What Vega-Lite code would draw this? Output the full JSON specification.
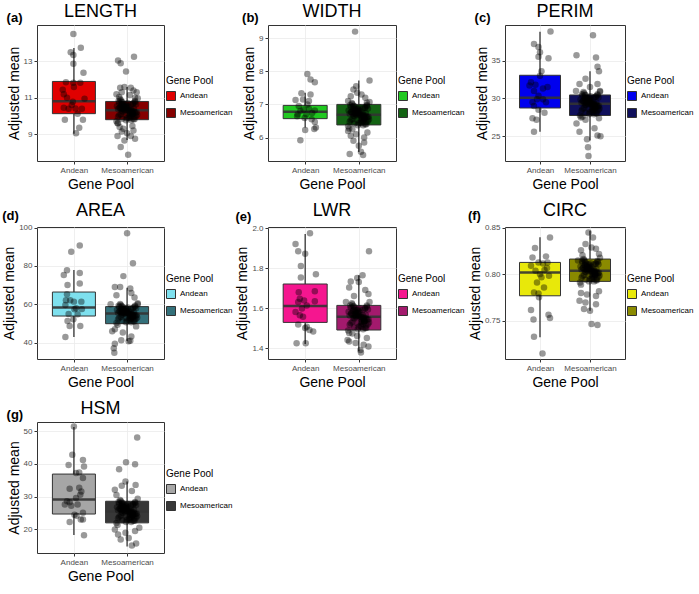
{
"$schema":"https://vega.github.io/schema/vega-lite/v6.json",
"padding":{"left":2,"top":2,"right":0,"bottom":0},
"columns":3,
"align":"each",
"spacing":{"row":9,"column":2},
"resolve":{"scale":{"color":"independent"},"legend":{"color":"independent"}},
"config":{
 "font":"Liberation Sans",
 "view":{"stroke":"#333333","strokeWidth":1},
 "axis":{"domain":false,"gridColor":"#ebebeb","gridWidth":0.8,"tickColor":"#333333","tickSize":3,"labelColor":"#4d4d4d","labelFontSize":8,"titleFontSize":14,"titleFontWeight":"normal","titleColor":"#000000","labelPadding":2},
 "axisX":{"titlePadding":3},
 "axisY":{"titlePadding":2},
 "title":{"fontSize":18,"fontWeight":"normal","offset":4,"frame":"group"},
 "legend":{"titleFontSize":10,"titleFontWeight":"normal","labelFontSize":8,"symbolType":"square","symbolSize":81,"symbolStrokeColor":"#333333","symbolStrokeWidth":1,"rowPadding":3,"titlePadding":5,"labelOffset":4,"padding":0,"orient":"none"}
},
"datasets":{
"a_box":[{"gp":"Andean","x":1,"lo":9.02,"q1":10.13,"med":10.81,"q3":11.9,"hi":13.73},{"gp":"Mesoamerican","x":2,"lo":8.69,"q1":9.8,"med":10.32,"q3":10.8,"hi":11.6}],
"a_pts":[
{"x":0.99,"y":14.5},{"x":0.94,"y":13.5},{"x":1.13,"y":13.75},{"x":0.99,"y":13.35},{"x":0.99,"y":12.87},{"x":1.18,"y":12.38},{"x":0.85,"y":11.86},{"x":0.99,"y":11.83},{"x":1.12,"y":11.83},{"x":0.79,"y":11.45},{"x":0.81,"y":11.2},{"x":1.0,"y":11.6},{"x":0.98,"y":10.78},{"x":0.96,"y":10.6},{"x":0.81,"y":10.45},{"x":0.9,"y":10.4},{"x":1.15,"y":10.4},{"x":1.03,"y":10.42},{"x":0.83,"y":9.8},{"x":1.17,"y":9.8},{"x":1.07,"y":10.13},{"x":1.1,"y":9.35},{"x":1.04,"y":9.06},{"x":0.87,"y":11.0},{"x":1.2,"y":10.95},
{"x":1.83,"y":10.38},{"x":2.05,"y":10.1},{"x":1.92,"y":10.65},{"x":2.12,"y":9.83},{"x":1.98,"y":10.49},{"x":2.18,"y":10.21},{"x":1.88,"y":10.87},{"x":2.08,"y":9.99},{"x":2.0,"y":10.57},{"x":1.8,"y":9.72},{"x":2.15,"y":10.76},{"x":1.95,"y":10.32},{"x":2.1,"y":10.13},{"x":1.86,"y":10.46},{"x":2.03,"y":9.91},{"x":2.2,"y":10.98},{"x":1.9,"y":10.27},{"x":2.07,"y":10.62},{"x":1.97,"y":10.05},{"x":2.13,"y":10.4},{"x":1.82,"y":9.61},{"x":2.01,"y":10.71},{"x":2.16,"y":10.18},{"x":1.93,"y":10.51},{"x":2.09,"y":10.29},
{"x":2.04,"y":10.24},{"x":1.89,"y":10.6},{"x":2.14,"y":9.94},{"x":1.94,"y":10.43},{"x":2.19,"y":10.07},{"x":1.84,"y":10.82},{"x":2.06,"y":10.16},{"x":1.99,"y":10.35},{"x":2.11,"y":10.68},{"x":1.91,"y":9.85},{"x":1.81,"y":10.54},{"x":2.17,"y":9.99},{"x":2.02,"y":10.32},{"x":1.87,"y":10.93},{"x":2.08,"y":9.77},{"x":1.96,"y":10.49},{"x":2.14,"y":10.21},{"x":1.85,"y":10.73},{"x":2.1,"y":10.1},{"x":1.92,"y":10.38},{"x":2.05,"y":10.02},{"x":1.98,"y":10.65},{"x":2.12,"y":10.27},{"x":1.9,"y":10.79},{"x":2.0,"y":9.88},
{"x":2.0,"y":10.43},{"x":2.1,"y":10.16},{"x":1.9,"y":10.6},{"x":2.05,"y":9.88},{"x":1.95,"y":10.35},{"x":2.15,"y":10.82},{"x":1.85,"y":10.05},{"x":2.02,"y":10.51},{"x":1.92,"y":10.24},{"x":2.12,"y":10.71},{"x":1.98,"y":9.77},{"x":2.07,"y":10.4},{"x":1.88,"y":10.1},{"x":2.17,"y":10.65},{"x":1.83,"y":9.96},{"x":2.04,"y":10.32},{"x":1.94,"y":10.54},{"x":2.09,"y":10.21},{"x":1.91,"y":10.76},{"x":2.14,"y":9.83},{"x":1.86,"y":10.46},{"x":2.06,"y":10.29},{"x":1.96,"y":10.62},{"x":2.11,"y":10.13},{"x":1.89,"y":10.38},
{"x":1.83,"y":13.05},{"x":1.88,"y":12.9},{"x":2.13,"y":13.25},{"x":1.98,"y":12.45},{"x":1.87,"y":11.55},{"x":2.07,"y":11.55},{"x":2.12,"y":11.4},{"x":1.95,"y":11.6},{"x":2.18,"y":11.3},{"x":1.8,"y":11.2},{"x":2.05,"y":11.15},{"x":1.9,"y":11.3},{"x":2.15,"y":11.0},{"x":1.85,"y":11.05},
{"x":1.86,"y":9.4},{"x":1.9,"y":9.15},{"x":1.82,"y":8.9},{"x":1.95,"y":8.65},{"x":1.88,"y":8.3},{"x":2.07,"y":8.9},{"x":2.15,"y":8.75},{"x":2.02,"y":7.87},{"x":2.12,"y":9.2},{"x":1.83,"y":9.6},{"x":2.0,"y":9.05},{"x":2.1,"y":9.45},{"x":1.93,"y":9.3}
],
"b_box":[{"gp":"Andean","x":1,"lo":6.3,"q1":6.57,"med":6.78,"q3":6.97,"hi":7.35},{"gp":"Mesoamerican","x":2,"lo":5.56,"q1":6.38,"med":6.69,"q3":7.0,"hi":7.72}],
"b_pts":[
{"x":1.04,"y":7.92},{"x":1.1,"y":7.75},{"x":1.18,"y":7.67},{"x":0.93,"y":7.34},{"x":1.1,"y":7.3},{"x":0.82,"y":7.13},{"x":1.07,"y":7.1},{"x":0.88,"y":6.95},{"x":0.97,"y":6.85},{"x":1.07,"y":6.87},{"x":1.18,"y":6.82},{"x":0.85,"y":6.64},{"x":0.99,"y":6.59},{"x":1.18,"y":6.47},{"x":1.0,"y":6.23},{"x":1.17,"y":6.26},{"x":1.2,"y":6.3},{"x":0.91,"y":5.92},{"x":1.13,"y":6.74},{"x":0.91,"y":6.8},{"x":1.04,"y":7.0},{"x":0.96,"y":7.15},{"x":0.86,"y":6.7},{"x":1.02,"y":6.7},{"x":1.12,"y":6.55},
{"x":1.83,"y":6.72},{"x":2.05,"y":6.56},{"x":1.92,"y":6.88},{"x":2.12,"y":6.4},{"x":1.98,"y":6.79},{"x":2.18,"y":6.63},{"x":1.88,"y":7.01},{"x":2.08,"y":6.5},{"x":2.0,"y":6.83},{"x":1.8,"y":6.34},{"x":2.15,"y":6.95},{"x":1.95,"y":6.69},{"x":2.1,"y":6.58},{"x":1.86,"y":6.77},{"x":2.03,"y":6.45},{"x":2.2,"y":7.07},{"x":1.9,"y":6.66},{"x":2.07,"y":6.87},{"x":1.97,"y":6.53},{"x":2.13,"y":6.74},{"x":1.82,"y":6.27},{"x":2.01,"y":6.91},{"x":2.16,"y":6.61},{"x":1.93,"y":6.8},{"x":2.09,"y":6.67},
{"x":2.04,"y":6.64},{"x":1.89,"y":6.85},{"x":2.14,"y":6.47},{"x":1.94,"y":6.75},{"x":2.19,"y":6.55},{"x":1.84,"y":6.98},{"x":2.06,"y":6.59},{"x":1.99,"y":6.71},{"x":2.11,"y":6.9},{"x":1.91,"y":6.42},{"x":1.81,"y":6.82},{"x":2.17,"y":6.5},{"x":2.02,"y":6.69},{"x":1.87,"y":7.04},{"x":2.08,"y":6.37},{"x":1.96,"y":6.79},{"x":2.14,"y":6.63},{"x":1.85,"y":6.93},{"x":2.1,"y":6.56},{"x":1.92,"y":6.72},{"x":2.05,"y":6.51},{"x":1.98,"y":6.88},{"x":2.12,"y":6.66},{"x":1.9,"y":6.96},{"x":2.0,"y":6.43},
{"x":2.0,"y":6.75},{"x":2.1,"y":6.59},{"x":1.9,"y":6.85},{"x":2.05,"y":6.43},{"x":1.95,"y":6.71},{"x":2.15,"y":6.98},{"x":1.85,"y":6.53},{"x":2.02,"y":6.8},{"x":1.92,"y":6.64},{"x":2.12,"y":6.91},{"x":1.98,"y":6.37},{"x":2.07,"y":6.74},{"x":1.88,"y":6.56},{"x":2.17,"y":6.88},{"x":1.83,"y":6.48},{"x":2.04,"y":6.69},{"x":1.94,"y":6.82},{"x":2.09,"y":6.63},{"x":1.91,"y":6.95},{"x":2.14,"y":6.4},{"x":1.86,"y":6.77},{"x":2.06,"y":6.67},{"x":1.96,"y":6.87},{"x":2.11,"y":6.58},{"x":1.89,"y":6.72},
{"x":1.93,"y":9.2},{"x":2.2,"y":7.72},{"x":1.95,"y":7.55},{"x":1.9,"y":7.45},{"x":1.85,"y":7.25},{"x":2.05,"y":7.3},{"x":2.12,"y":7.2},{"x":1.8,"y":7.1},{"x":2.15,"y":7.05},{"x":1.97,"y":7.35},
{"x":1.83,"y":5.5},{"x":2.04,"y":5.57},{"x":2.08,"y":5.47},{"x":1.9,"y":5.9},{"x":2.1,"y":5.85},{"x":1.85,"y":6.05},{"x":2.0,"y":5.75},{"x":1.8,"y":6.2},{"x":2.16,"y":6.15},{"x":1.95,"y":6.1},{"x":2.1,"y":6.0},{"x":1.88,"y":6.25}
],
"c_box":[{"gp":"Andean","x":1,"lo":25.6,"q1":28.74,"med":30.1,"q3":33.06,"hi":38.8},{"gp":"Mesoamerican","x":2,"lo":24.46,"q1":27.75,"med":29.3,"q3":30.46,"hi":33.6}],
"c_pts":[
{"x":1.21,"y":38.84},{"x":0.88,"y":37.2},{"x":0.97,"y":36.8},{"x":1.0,"y":36.1},{"x":0.97,"y":35.5},{"x":1.17,"y":35.3},{"x":1.03,"y":33.6},{"x":0.82,"y":32.15},{"x":0.91,"y":31.8},{"x":1.15,"y":31.5},{"x":0.88,"y":31.0},{"x":0.97,"y":30.35},{"x":0.94,"y":29.9},{"x":1.06,"y":29.9},{"x":0.88,"y":29.0},{"x":0.97,"y":28.5},{"x":1.09,"y":28.1},{"x":0.85,"y":27.4},{"x":0.93,"y":27.2},{"x":0.88,"y":25.6},{"x":0.79,"y":31.7},{"x":1.06,"y":31.3},{"x":0.85,"y":29.5},{"x":1.12,"y":29.5},{"x":1.0,"y":33.0},
{"x":1.83,"y":29.44},{"x":2.05,"y":28.74},{"x":1.92,"y":30.14},{"x":2.12,"y":28.04},{"x":1.98,"y":29.72},{"x":2.18,"y":29.02},{"x":1.88,"y":30.7},{"x":2.08,"y":28.46},{"x":2.0,"y":29.93},{"x":1.8,"y":27.76},{"x":2.15,"y":30.42},{"x":1.95,"y":29.3},{"x":2.1,"y":28.81},{"x":1.86,"y":29.65},{"x":2.03,"y":28.25},{"x":2.2,"y":30.98},{"x":1.9,"y":29.16},{"x":2.07,"y":30.07},{"x":1.97,"y":28.6},{"x":2.13,"y":29.51},{"x":1.82,"y":27.48},{"x":2.01,"y":30.28},{"x":2.16,"y":28.95},{"x":1.93,"y":29.79},{"x":2.09,"y":29.23},
{"x":2.04,"y":29.09},{"x":1.89,"y":30.0},{"x":2.14,"y":28.32},{"x":1.94,"y":29.58},{"x":2.19,"y":28.67},{"x":1.84,"y":30.56},{"x":2.06,"y":28.88},{"x":1.99,"y":29.37},{"x":2.11,"y":30.21},{"x":1.91,"y":28.11},{"x":1.81,"y":29.86},{"x":2.17,"y":28.46},{"x":2.02,"y":29.3},{"x":1.87,"y":30.84},{"x":2.08,"y":27.9},{"x":1.96,"y":29.72},{"x":2.14,"y":29.02},{"x":1.85,"y":30.35},{"x":2.1,"y":28.74},{"x":1.92,"y":29.44},{"x":2.05,"y":28.53},{"x":1.98,"y":30.14},{"x":2.12,"y":29.16},{"x":1.9,"y":30.49},{"x":2.0,"y":28.18},
{"x":2.0,"y":29.58},{"x":2.1,"y":28.88},{"x":1.9,"y":30.0},{"x":2.05,"y":28.18},{"x":1.95,"y":29.37},{"x":2.15,"y":30.56},{"x":1.85,"y":28.6},{"x":2.02,"y":29.79},{"x":1.92,"y":29.09},{"x":2.12,"y":30.28},{"x":1.98,"y":27.9},{"x":2.07,"y":29.51},{"x":1.88,"y":28.74},{"x":2.17,"y":30.14},{"x":1.83,"y":28.39},{"x":2.04,"y":29.3},{"x":1.94,"y":29.86},{"x":2.09,"y":29.02},{"x":1.91,"y":30.42},{"x":2.14,"y":28.04},{"x":1.86,"y":29.65},{"x":2.06,"y":29.23},{"x":1.96,"y":30.07},{"x":2.11,"y":28.81},{"x":1.89,"y":29.44},
{"x":2.06,"y":38.35},{"x":1.73,"y":35.7},{"x":2.12,"y":35.4},{"x":2.15,"y":34.2},{"x":2.18,"y":33.6},{"x":1.91,"y":32.6},{"x":1.79,"y":31.9},{"x":2.15,"y":31.9},{"x":2.0,"y":31.5},{"x":1.72,"y":31.0},{"x":2.2,"y":30.9},
{"x":1.97,"y":22.4},{"x":1.96,"y":23.55},{"x":1.94,"y":24.6},{"x":2.15,"y":25.1},{"x":2.21,"y":25.0},{"x":1.79,"y":25.6},{"x":2.09,"y":26.05},{"x":1.73,"y":26.7},{"x":1.91,"y":27.2},{"x":2.18,"y":27.4},{"x":1.85,"y":27.6}
],
"d_box":[{"gp":"Andean","x":1,"lo":43.0,"q1":53.9,"med":58.3,"q3":66.4,"hi":77.9},{"gp":"Mesoamerican","x":2,"lo":40.9,"q1":49.9,"med":55.2,"q3":58.8,"hi":68.7}],
"d_pts":[
{"x":0.95,"y":87.4},{"x":1.11,"y":90.7},{"x":0.87,"y":77.7},{"x":0.81,"y":75.3},{"x":1.11,"y":76.3},{"x":1.11,"y":70.8},{"x":0.88,"y":70.1},{"x":0.87,"y":65.2},{"x":0.93,"y":62.1},{"x":0.85,"y":62.1},{"x":1.0,"y":61.4},{"x":1.14,"y":61.4},{"x":0.84,"y":59.6},{"x":1.01,"y":57.4},{"x":1.07,"y":54.8},{"x":0.9,"y":54.9},{"x":0.88,"y":51.3},{"x":0.99,"y":52.2},{"x":0.92,"y":48.7},{"x":1.12,"y":48.7},{"x":0.84,"y":43.0},{"x":1.04,"y":58.0},{"x":1.15,"y":57.5},
{"x":1.83,"y":55.65},{"x":2.05,"y":53.4},{"x":1.92,"y":57.9},{"x":2.12,"y":51.15},{"x":1.98,"y":56.55},{"x":2.18,"y":54.3},{"x":1.88,"y":59.7},{"x":2.08,"y":52.5},{"x":2.0,"y":57.23},{"x":1.8,"y":50.25},{"x":2.15,"y":58.8},{"x":1.95,"y":55.2},{"x":2.1,"y":53.63},{"x":1.86,"y":56.33},{"x":2.03,"y":51.83},{"x":2.2,"y":60.6},{"x":1.9,"y":54.75},{"x":2.07,"y":57.68},{"x":1.97,"y":52.95},{"x":2.13,"y":55.88},{"x":1.82,"y":49.35},{"x":2.01,"y":58.35},{"x":2.16,"y":54.08},{"x":1.93,"y":56.78},{"x":2.09,"y":54.98},
{"x":2.04,"y":54.53},{"x":1.89,"y":57.45},{"x":2.14,"y":52.05},{"x":1.94,"y":56.1},{"x":2.19,"y":53.18},{"x":1.84,"y":59.25},{"x":2.06,"y":53.85},{"x":1.99,"y":55.43},{"x":2.11,"y":58.13},{"x":1.91,"y":51.38},{"x":1.81,"y":57.0},{"x":2.17,"y":52.5},{"x":2.02,"y":55.2},{"x":1.87,"y":60.15},{"x":2.08,"y":50.7},{"x":1.96,"y":56.55},{"x":2.14,"y":54.3},{"x":1.85,"y":58.58},{"x":2.1,"y":53.4},{"x":1.92,"y":55.65},{"x":2.05,"y":52.73},{"x":1.98,"y":57.9},{"x":2.12,"y":54.75},{"x":1.9,"y":59.03},{"x":2.0,"y":51.6},
{"x":2.0,"y":56.1},{"x":2.1,"y":53.85},{"x":1.9,"y":57.45},{"x":2.05,"y":51.6},{"x":1.95,"y":55.43},{"x":2.15,"y":59.25},{"x":1.85,"y":52.95},{"x":2.02,"y":56.78},{"x":1.92,"y":54.53},{"x":2.12,"y":58.35},{"x":1.98,"y":50.7},{"x":2.07,"y":55.88},{"x":1.88,"y":53.4},{"x":2.17,"y":57.9},{"x":1.83,"y":52.28},{"x":2.04,"y":55.2},{"x":1.94,"y":57.0},{"x":2.09,"y":54.3},{"x":1.91,"y":58.8},{"x":2.14,"y":51.15},{"x":1.86,"y":56.33},{"x":2.06,"y":54.98},{"x":1.96,"y":57.68},{"x":2.11,"y":53.63},{"x":1.89,"y":55.65},
{"x":2.0,"y":97.0},{"x":2.11,"y":81.4},{"x":1.93,"y":74.7},{"x":1.77,"y":69.0},{"x":1.87,"y":69.0},{"x":2.06,"y":68.2},{"x":2.08,"y":65.9},{"x":1.8,"y":64.7},{"x":2.14,"y":63.5},{"x":1.69,"y":60.0},{"x":2.2,"y":60.0},
{"x":1.77,"y":47.0},{"x":1.92,"y":45.3},{"x":2.08,"y":43.2},{"x":2.03,"y":40.7},{"x":1.89,"y":41.25},{"x":1.77,"y":39.5},{"x":1.75,"y":37.1},{"x":1.76,"y":34.8},{"x":2.06,"y":41.0},{"x":1.72,"y":46.0},{"x":2.17,"y":48.5}
],
"e_box":[{"gp":"Andean","x":1,"lo":1.42,"q1":1.528,"med":1.61,"q3":1.72,"hi":1.97},{"gp":"Mesoamerican","x":2,"lo":1.384,"q1":1.49,"med":1.556,"q3":1.613,"hi":1.764}],
"e_pts":[
{"x":1.09,"y":1.974},{"x":0.82,"y":1.92},{"x":0.87,"y":1.884},{"x":1.0,"y":1.871},{"x":0.92,"y":1.81},{"x":0.92,"y":1.753},{"x":1.2,"y":1.769},{"x":0.88,"y":1.679},{"x":1.18,"y":1.684},{"x":0.9,"y":1.646},{"x":0.98,"y":1.637},{"x":1.18,"y":1.634},{"x":0.87,"y":1.63},{"x":1.03,"y":1.613},{"x":0.94,"y":1.597},{"x":0.9,"y":1.564},{"x":0.96,"y":1.556},{"x":0.87,"y":1.518},{"x":1.03,"y":1.506},{"x":1.08,"y":1.49},{"x":1.15,"y":1.482},{"x":0.84,"y":1.424},{"x":1.01,"y":1.424},{"x":1.0,"y":1.5},{"x":0.82,"y":1.58},
{"x":1.83,"y":1.562},{"x":2.05,"y":1.531},{"x":1.92,"y":1.593},{"x":2.12,"y":1.5},{"x":1.98,"y":1.575},{"x":2.18,"y":1.544},{"x":1.88,"y":1.618},{"x":2.08,"y":1.519},{"x":2.0,"y":1.584},{"x":1.8,"y":1.488},{"x":2.15,"y":1.606},{"x":1.95,"y":1.556},{"x":2.1,"y":1.534},{"x":1.86,"y":1.572},{"x":2.03,"y":1.51},{"x":2.2,"y":1.63},{"x":1.9,"y":1.55},{"x":2.07,"y":1.59},{"x":1.97,"y":1.525},{"x":2.13,"y":1.565},{"x":1.82,"y":1.475},{"x":2.01,"y":1.599},{"x":2.16,"y":1.541},{"x":1.93,"y":1.578},{"x":2.09,"y":1.553},
{"x":2.04,"y":1.547},{"x":1.89,"y":1.587},{"x":2.14,"y":1.513},{"x":1.94,"y":1.568},{"x":2.19,"y":1.528},{"x":1.84,"y":1.612},{"x":2.06,"y":1.537},{"x":1.99,"y":1.559},{"x":2.11,"y":1.596},{"x":1.91,"y":1.503},{"x":1.81,"y":1.581},{"x":2.17,"y":1.519},{"x":2.02,"y":1.556},{"x":1.87,"y":1.624},{"x":2.08,"y":1.494},{"x":1.96,"y":1.575},{"x":2.14,"y":1.544},{"x":1.85,"y":1.603},{"x":2.1,"y":1.531},{"x":1.92,"y":1.562},{"x":2.05,"y":1.522},{"x":1.98,"y":1.593},{"x":2.12,"y":1.55},{"x":1.9,"y":1.609},{"x":2.0,"y":1.506},
{"x":2.0,"y":1.568},{"x":2.1,"y":1.537},{"x":1.9,"y":1.587},{"x":2.05,"y":1.506},{"x":1.95,"y":1.559},{"x":2.15,"y":1.612},{"x":1.85,"y":1.525},{"x":2.02,"y":1.578},{"x":1.92,"y":1.547},{"x":2.12,"y":1.599},{"x":1.98,"y":1.494},{"x":2.07,"y":1.565},{"x":1.88,"y":1.531},{"x":2.17,"y":1.593},{"x":1.83,"y":1.516},{"x":2.04,"y":1.556},{"x":1.94,"y":1.581},{"x":2.09,"y":1.544},{"x":1.91,"y":1.606},{"x":2.14,"y":1.5},{"x":1.86,"y":1.572},{"x":2.06,"y":1.553},{"x":1.96,"y":1.59},{"x":2.11,"y":1.534},{"x":1.89,"y":1.562},
{"x":2.19,"y":1.884},{"x":2.07,"y":1.764},{"x":1.97,"y":1.75},{"x":1.85,"y":1.733},{"x":2.0,"y":1.73},{"x":1.82,"y":1.703},{"x":2.12,"y":1.69},{"x":2.18,"y":1.67},{"x":1.91,"y":1.66},{"x":1.76,"y":1.63},
{"x":1.88,"y":1.473},{"x":1.82,"y":1.432},{"x":1.94,"y":1.425},{"x":2.09,"y":1.416},{"x":2.18,"y":1.408},{"x":2.03,"y":1.39},{"x":2.04,"y":1.378},{"x":1.79,"y":1.44},{"x":1.97,"y":1.46},{"x":2.15,"y":1.45}
],
"f_box":[{"gp":"Andean","x":1,"lo":0.7325,"q1":0.777,"med":0.802,"q3":0.8129,"hi":0.84},{"gp":"Mesoamerican","x":2,"lo":0.761,"q1":0.7925,"med":0.804,"q3":0.8165,"hi":0.847}],
"f_pts":[
{"x":1.2,"y":0.8398},{"x":0.9,"y":0.8283},{"x":0.85,"y":0.8183},{"x":1.12,"y":0.8194},{"x":0.97,"y":0.8129},{"x":1.06,"y":0.8118},{"x":0.82,"y":0.8092},{"x":1.15,"y":0.8129},{"x":0.91,"y":0.8039},{"x":1.09,"y":0.8047},{"x":1.0,"y":0.8003},{"x":1.18,"y":0.7986},{"x":0.94,"y":0.7914},{"x":1.08,"y":0.786},{"x":0.88,"y":0.7806},{"x":0.97,"y":0.7796},{"x":0.98,"y":0.7753},{"x":0.82,"y":0.7616},{"x":1.17,"y":0.7566},{"x":1.2,"y":0.753},{"x":0.87,"y":0.7516},{"x":0.88,"y":0.7329},{"x":1.05,"y":0.715},{"x":1.14,"y":0.807},{"x":1.03,"y":0.797},
{"x":1.83,"y":0.8052},{"x":2.05,"y":0.7994},{"x":1.92,"y":0.8109},{"x":2.12,"y":0.7937},{"x":1.98,"y":0.8075},{"x":2.18,"y":0.8017},{"x":1.88,"y":0.8155},{"x":2.08,"y":0.7971},{"x":2.0,"y":0.8092},{"x":1.8,"y":0.7914},{"x":2.15,"y":0.8132},{"x":1.95,"y":0.804},{"x":2.1,"y":0.8},{"x":1.86,"y":0.8069},{"x":2.03,"y":0.7954},{"x":2.2,"y":0.8178},{"x":1.9,"y":0.8029},{"x":2.07,"y":0.8103},{"x":1.97,"y":0.7983},{"x":2.13,"y":0.8057},{"x":1.82,"y":0.789},{"x":2.01,"y":0.8121},{"x":2.16,"y":0.8011},{"x":1.93,"y":0.808},{"x":2.09,"y":0.8034},
{"x":2.04,"y":0.8023},{"x":1.89,"y":0.8098},{"x":2.14,"y":0.796},{"x":1.94,"y":0.8063},{"x":2.19,"y":0.7988},{"x":1.84,"y":0.8144},{"x":2.06,"y":0.8006},{"x":1.99,"y":0.8046},{"x":2.11,"y":0.8115},{"x":1.91,"y":0.7942},{"x":1.81,"y":0.8086},{"x":2.17,"y":0.7971},{"x":2.02,"y":0.804},{"x":1.87,"y":0.8167},{"x":2.08,"y":0.7925},{"x":1.96,"y":0.8075},{"x":2.14,"y":0.8017},{"x":1.85,"y":0.8126},{"x":2.1,"y":0.7994},{"x":1.92,"y":0.8052},{"x":2.05,"y":0.7977},{"x":1.98,"y":0.8109},{"x":2.12,"y":0.8029},{"x":1.9,"y":0.8138},{"x":2.0,"y":0.7948},
{"x":2.0,"y":0.8063},{"x":2.1,"y":0.8006},{"x":1.9,"y":0.8098},{"x":2.05,"y":0.7948},{"x":1.95,"y":0.8046},{"x":2.15,"y":0.8144},{"x":1.85,"y":0.7983},{"x":2.02,"y":0.808},{"x":1.92,"y":0.8023},{"x":2.12,"y":0.8121},{"x":1.98,"y":0.7925},{"x":2.07,"y":0.8057},{"x":1.88,"y":0.7994},{"x":2.17,"y":0.8109},{"x":1.83,"y":0.7965},{"x":2.04,"y":0.804},{"x":1.94,"y":0.8086},{"x":2.09,"y":0.8017},{"x":1.91,"y":0.8132},{"x":2.14,"y":0.7937},{"x":1.86,"y":0.8069},{"x":2.06,"y":0.8034},{"x":1.96,"y":0.8103},{"x":2.11,"y":0.8},{"x":1.89,"y":0.8052},
{"x":1.97,"y":0.8452},{"x":2.06,"y":0.8398},{"x":1.91,"y":0.8326},{"x":2.03,"y":0.829},{"x":1.82,"y":0.826},{"x":2.12,"y":0.8275},{"x":2.18,"y":0.822},{"x":1.85,"y":0.8205},{"x":1.76,"y":0.815},
{"x":1.91,"y":0.7699},{"x":1.79,"y":0.7716},{"x":1.88,"y":0.7627},{"x":2.0,"y":0.7608},{"x":2.12,"y":0.768},{"x":2.03,"y":0.7466},{"x":2.15,"y":0.7455},{"x":1.94,"y":0.7785},{"x":2.12,"y":0.7768},{"x":1.82,"y":0.78},{"x":2.18,"y":0.782}
],
"g_box":[{"gp":"Andean","x":1,"lo":18.3,"q1":24.7,"med":29.1,"q3":36.9,"hi":51.3},{"gp":"Mesoamerican","x":2,"lo":14.8,"q1":22.0,"med":25.5,"q3":28.6,"hi":34.6}],
"g_pts":[
{"x":1.0,"y":51.4},{"x":0.97,"y":42.8},{"x":0.9,"y":39.7},{"x":1.17,"y":41.2},{"x":1.19,"y":39.2},{"x":1.1,"y":37.4},{"x":1.04,"y":37.2},{"x":1.17,"y":35.7},{"x":0.92,"y":32.4},{"x":1.14,"y":31.6},{"x":1.12,"y":30.6},{"x":1.04,"y":29.6},{"x":0.87,"y":28.6},{"x":0.92,"y":28.3},{"x":1.07,"y":27.6},{"x":0.95,"y":27.2},{"x":1.01,"y":24.5},{"x":1.05,"y":24.2},{"x":1.17,"y":25.1},{"x":1.13,"y":23.0},{"x":1.17,"y":23.0},{"x":0.92,"y":22.3},{"x":1.19,"y":18.2},{"x":0.83,"y":27.6},{"x":1.1,"y":32.7},
{"x":1.83,"y":25.82},{"x":2.05,"y":24.22},{"x":1.92,"y":27.42},{"x":2.12,"y":22.62},{"x":1.98,"y":26.46},{"x":2.18,"y":24.86},{"x":1.88,"y":28.7},{"x":2.08,"y":23.58},{"x":2.0,"y":26.94},{"x":1.8,"y":21.98},{"x":2.15,"y":28.06},{"x":1.95,"y":25.5},{"x":2.1,"y":24.38},{"x":1.86,"y":26.3},{"x":2.03,"y":23.1},{"x":2.2,"y":29.34},{"x":1.9,"y":25.18},{"x":2.07,"y":27.26},{"x":1.97,"y":23.9},{"x":2.13,"y":25.98},{"x":1.82,"y":21.34},{"x":2.01,"y":27.74},{"x":2.16,"y":24.7},{"x":1.93,"y":26.62},{"x":2.09,"y":25.34},
{"x":2.04,"y":25.02},{"x":1.89,"y":27.1},{"x":2.14,"y":23.26},{"x":1.94,"y":26.14},{"x":2.19,"y":24.06},{"x":1.84,"y":28.38},{"x":2.06,"y":24.54},{"x":1.99,"y":25.66},{"x":2.11,"y":27.58},{"x":1.91,"y":22.78},{"x":1.81,"y":26.78},{"x":2.17,"y":23.58},{"x":2.02,"y":25.5},{"x":1.87,"y":29.02},{"x":2.08,"y":22.3},{"x":1.96,"y":26.46},{"x":2.14,"y":24.86},{"x":1.85,"y":27.9},{"x":2.1,"y":24.22},{"x":1.92,"y":25.82},{"x":2.05,"y":23.74},{"x":1.98,"y":27.42},{"x":2.12,"y":25.18},{"x":1.9,"y":28.22},{"x":2.0,"y":22.94},
{"x":2.0,"y":26.14},{"x":2.1,"y":24.54},{"x":1.9,"y":27.1},{"x":2.05,"y":22.94},{"x":1.95,"y":25.66},{"x":2.15,"y":28.38},{"x":1.85,"y":23.9},{"x":2.02,"y":26.62},{"x":1.92,"y":25.02},{"x":2.12,"y":27.74},{"x":1.98,"y":22.3},{"x":2.07,"y":25.98},{"x":1.88,"y":24.22},{"x":2.17,"y":27.42},{"x":1.83,"y":23.42},{"x":2.04,"y":25.5},{"x":1.94,"y":26.78},{"x":2.09,"y":24.86},{"x":1.91,"y":28.06},{"x":2.14,"y":22.62},{"x":1.86,"y":26.3},{"x":2.06,"y":25.34},{"x":1.96,"y":27.26},{"x":2.11,"y":24.38},{"x":1.89,"y":25.82},
{"x":2.19,"y":48.1},{"x":1.98,"y":40.5},{"x":2.15,"y":39.9},{"x":1.85,"y":38.4},{"x":1.97,"y":34.6},{"x":1.9,"y":33.3},{"x":2.16,"y":33.6},{"x":1.77,"y":32.1},{"x":2.09,"y":31.7},{"x":1.8,"y":30.5},
{"x":1.83,"y":18.45},{"x":2.03,"y":17.4},{"x":2.09,"y":15.1},{"x":2.17,"y":15.7},{"x":1.88,"y":16.9},{"x":1.97,"y":19.0},{"x":1.77,"y":20.0},{"x":2.23,"y":20.5},{"x":2.15,"y":19.5}
]
},
"concat":[
{"title":{"text":"(a)","anchor":"start","frame":"bounds","offset":-22,"fontSize":13,"fontWeight":"bold"},
 "vconcat":[{"title":"LENGTH","width":127,"height":136,
 "encoding":{"x":{"field":"x","type":"quantitative","title":"Gene Pool","scale":{"domain":[0.4,2.6],"nice":false,"zero":false},"axis":{"values":[1,2],"labelExpr":"datum.value == 1 ? 'Andean' : 'Mesoamerican'"}}},
 "layer":[
  {"data":{"name":"a_box"},"mark":{"type":"rule","color":"#333333","strokeWidth":1.3},"encoding":{"y":{"field":"lo","type":"quantitative","title":"Adjusted mean","scale":{"domain":[7.53,15.0],"nice":false,"zero":false},"axis":{"values":[9,11,13]}},"y2":{"field":"hi"}}},
  {"data":{"name":"a_box"},"mark":{"type":"bar","size":43,"stroke":"#333333","strokeWidth":1},"encoding":{"y":{"field":"q1","type":"quantitative","title":"Adjusted mean"},"y2":{"field":"q3"},"color":{"field":"gp","type":"nominal","scale":{"domain":["Andean","Mesoamerican"],"range":["#E00000","#850000"]},"legend":{"title":"Gene Pool","legendX":129,"legendY":51}}}},
  {"data":{"name":"a_box"},"mark":{"type":"tick","orient":"horizontal","size":43,"thickness":2.5,"color":"#333333","opacity":0.9},"encoding":{"y":{"field":"med","type":"quantitative","title":"Adjusted mean"}}},
  {"data":{"name":"a_pts"},"mark":{"type":"point","filled":true,"size":42,"color":"#000000","opacity":0.4},"encoding":{"y":{"field":"y","type":"quantitative","title":"Adjusted mean"}}}
 ]}]},
{"title":{"text":"(b)","anchor":"start","frame":"bounds","offset":-22,"fontSize":13,"fontWeight":"bold"},
 "vconcat":[{"title":"WIDTH","width":128,"height":136,
 "encoding":{"x":{"field":"x","type":"quantitative","title":"Gene Pool","scale":{"domain":[0.4,2.6],"nice":false,"zero":false},"axis":{"values":[1,2],"labelExpr":"datum.value == 1 ? 'Andean' : 'Mesoamerican'"}}},
 "layer":[
  {"data":{"name":"b_box"},"mark":{"type":"rule","color":"#333333","strokeWidth":1.3},"encoding":{"y":{"field":"lo","type":"quantitative","title":"Adjusted mean","scale":{"domain":[5.29,9.4],"nice":false,"zero":false},"axis":{"values":[6,7,8,9]}},"y2":{"field":"hi"}}},
  {"data":{"name":"b_box"},"mark":{"type":"bar","size":44,"stroke":"#333333","strokeWidth":1},"encoding":{"y":{"field":"q1","type":"quantitative","title":"Adjusted mean"},"y2":{"field":"q3"},"color":{"field":"gp","type":"nominal","scale":{"domain":["Andean","Mesoamerican"],"range":["#20C820","#136313"]},"legend":{"title":"Gene Pool","legendX":130,"legendY":51}}}},
  {"data":{"name":"b_box"},"mark":{"type":"tick","orient":"horizontal","size":44,"thickness":2.5,"color":"#333333","opacity":0.9},"encoding":{"y":{"field":"med","type":"quantitative","title":"Adjusted mean"}}},
  {"data":{"name":"b_pts"},"mark":{"type":"point","filled":true,"size":42,"color":"#000000","opacity":0.4},"encoding":{"y":{"field":"y","type":"quantitative","title":"Adjusted mean"}}}
 ]}]},
{"title":{"text":"(c)","anchor":"start","frame":"bounds","offset":-22,"fontSize":13,"fontWeight":"bold"},
 "vconcat":[{"title":"PERIM","width":120,"height":136,
 "encoding":{"x":{"field":"x","type":"quantitative","title":"Gene Pool","scale":{"domain":[0.4,2.6],"nice":false,"zero":false},"axis":{"values":[1,2],"labelExpr":"datum.value == 1 ? 'Andean' : 'Mesoamerican'"}}},
 "layer":[
  {"data":{"name":"c_box"},"mark":{"type":"rule","color":"#333333","strokeWidth":1.3},"encoding":{"y":{"field":"lo","type":"quantitative","title":"Adjusted mean","scale":{"domain":[21.74,39.7],"nice":false,"zero":false},"axis":{"values":[25,30,35]}},"y2":{"field":"hi"}}},
  {"data":{"name":"c_box"},"mark":{"type":"bar","size":41,"stroke":"#333333","strokeWidth":1},"encoding":{"y":{"field":"q1","type":"quantitative","title":"Adjusted mean"},"y2":{"field":"q3"},"color":{"field":"gp","type":"nominal","scale":{"domain":["Andean","Mesoamerican"],"range":["#0000EE","#10105C"]},"legend":{"title":"Gene Pool","legendX":122,"legendY":51}}}},
  {"data":{"name":"c_box"},"mark":{"type":"tick","orient":"horizontal","size":41,"thickness":2.5,"color":"#333333","opacity":0.9},"encoding":{"y":{"field":"med","type":"quantitative","title":"Adjusted mean"}}},
  {"data":{"name":"c_pts"},"mark":{"type":"point","filled":true,"size":42,"color":"#000000","opacity":0.4},"encoding":{"y":{"field":"y","type":"quantitative","title":"Adjusted mean"}}}
 ]}]},
{"title":{"text":"(d)","anchor":"start","frame":"bounds","offset":-22,"fontSize":13,"fontWeight":"bold"},
 "vconcat":[{"title":"AREA","width":127,"height":132,
 "encoding":{"x":{"field":"x","type":"quantitative","title":"Gene Pool","scale":{"domain":[0.4,2.6],"nice":false,"zero":false},"axis":{"values":[1,2],"labelExpr":"datum.value == 1 ? 'Andean' : 'Mesoamerican'"}}},
 "layer":[
  {"data":{"name":"d_box"},"mark":{"type":"rule","color":"#333333","strokeWidth":1.3},"encoding":{"y":{"field":"lo","type":"quantitative","title":"Adjusted mean","scale":{"domain":[31.5,100.3],"nice":false,"zero":false},"axis":{"values":[40,60,80,100]}},"y2":{"field":"hi"}}},
  {"data":{"name":"d_box"},"mark":{"type":"bar","size":43,"stroke":"#333333","strokeWidth":1},"encoding":{"y":{"field":"q1","type":"quantitative","title":"Adjusted mean"},"y2":{"field":"q3"},"color":{"field":"gp","type":"nominal","scale":{"domain":["Andean","Mesoamerican"],"range":["#7EE0EE","#33707A"]},"legend":{"title":"Gene Pool","legendX":129,"legendY":47}}}},
  {"data":{"name":"d_box"},"mark":{"type":"tick","orient":"horizontal","size":43,"thickness":2.5,"color":"#333333","opacity":0.9},"encoding":{"y":{"field":"med","type":"quantitative","title":"Adjusted mean"}}},
  {"data":{"name":"d_pts"},"mark":{"type":"point","filled":true,"size":42,"color":"#000000","opacity":0.4},"encoding":{"y":{"field":"y","type":"quantitative","title":"Adjusted mean"}}}
 ]}]},
{"title":{"text":"(e)","anchor":"start","frame":"bounds","offset":-22,"fontSize":13,"fontWeight":"bold"},
 "vconcat":[{"title":"LWR","width":128,"height":132,
 "encoding":{"x":{"field":"x","type":"quantitative","title":"Gene Pool","scale":{"domain":[0.4,2.6],"nice":false,"zero":false},"axis":{"values":[1,2],"labelExpr":"datum.value == 1 ? 'Andean' : 'Mesoamerican'"}}},
 "layer":[
  {"data":{"name":"e_box"},"mark":{"type":"rule","color":"#333333","strokeWidth":1.3},"encoding":{"y":{"field":"lo","type":"quantitative","title":"Adjusted mean","scale":{"domain":[1.345,2.005],"nice":false,"zero":false},"axis":{"values":[1.4,1.6,1.8,2.0],"format":".1f"}},"y2":{"field":"hi"}}},
  {"data":{"name":"e_box"},"mark":{"type":"bar","size":44,"stroke":"#333333","strokeWidth":1},"encoding":{"y":{"field":"q1","type":"quantitative","title":"Adjusted mean"},"y2":{"field":"q3"},"color":{"field":"gp","type":"nominal","scale":{"domain":["Andean","Mesoamerican"],"range":["#F5168F","#A31A6D"]},"legend":{"title":"Gene Pool","legendX":130,"legendY":47}}}},
  {"data":{"name":"e_box"},"mark":{"type":"tick","orient":"horizontal","size":44,"thickness":2.5,"color":"#333333","opacity":0.9},"encoding":{"y":{"field":"med","type":"quantitative","title":"Adjusted mean"}}},
  {"data":{"name":"e_pts"},"mark":{"type":"point","filled":true,"size":42,"color":"#000000","opacity":0.4},"encoding":{"y":{"field":"y","type":"quantitative","title":"Adjusted mean"}}}
 ]}]},
{"title":{"text":"(f)","anchor":"start","frame":"bounds","offset":-22,"fontSize":13,"fontWeight":"bold"},
 "vconcat":[{"title":"CIRC","width":120,"height":132,
 "encoding":{"x":{"field":"x","type":"quantitative","title":"Gene Pool","scale":{"domain":[0.4,2.6],"nice":false,"zero":false},"axis":{"values":[1,2],"labelExpr":"datum.value == 1 ? 'Andean' : 'Mesoamerican'"}}},
 "layer":[
  {"data":{"name":"f_box"},"mark":{"type":"rule","color":"#333333","strokeWidth":1.3},"encoding":{"y":{"field":"lo","type":"quantitative","title":"Adjusted mean","scale":{"domain":[0.709,0.851],"nice":false,"zero":false},"axis":{"values":[0.75,0.8,0.85],"format":".2f"}},"y2":{"field":"hi"}}},
  {"data":{"name":"f_box"},"mark":{"type":"bar","size":41,"stroke":"#333333","strokeWidth":1},"encoding":{"y":{"field":"q1","type":"quantitative","title":"Adjusted mean"},"y2":{"field":"q3"},"color":{"field":"gp","type":"nominal","scale":{"domain":["Andean","Mesoamerican"],"range":["#E8E80A","#8A8A00"]},"legend":{"title":"Gene Pool","legendX":122,"legendY":47}}}},
  {"data":{"name":"f_box"},"mark":{"type":"tick","orient":"horizontal","size":41,"thickness":2.5,"color":"#333333","opacity":0.9},"encoding":{"y":{"field":"med","type":"quantitative","title":"Adjusted mean"}}},
  {"data":{"name":"f_pts"},"mark":{"type":"point","filled":true,"size":42,"color":"#000000","opacity":0.4},"encoding":{"y":{"field":"y","type":"quantitative","title":"Adjusted mean"}}}
 ]}]},
{"title":{"text":"(g)","anchor":"start","frame":"bounds","offset":-22,"fontSize":13,"fontWeight":"bold"},
 "vconcat":[{"title":"HSM","width":127,"height":131,
 "encoding":{"x":{"field":"x","type":"quantitative","title":"Gene Pool","scale":{"domain":[0.4,2.6],"nice":false,"zero":false},"axis":{"values":[1,2],"labelExpr":"datum.value == 1 ? 'Andean' : 'Mesoamerican'"}}},
 "layer":[
  {"data":{"name":"g_box"},"mark":{"type":"rule","color":"#333333","strokeWidth":1.3},"encoding":{"y":{"field":"lo","type":"quantitative","title":"Adjusted mean","scale":{"domain":[12.8,52.8],"nice":false,"zero":false},"axis":{"values":[20,30,40,50]}},"y2":{"field":"hi"}}},
  {"data":{"name":"g_box"},"mark":{"type":"bar","size":43,"stroke":"#333333","strokeWidth":1},"encoding":{"y":{"field":"q1","type":"quantitative","title":"Adjusted mean"},"y2":{"field":"q3"},"color":{"field":"gp","type":"nominal","scale":{"domain":["Andean","Mesoamerican"],"range":["#A6A6A6","#383838"]},"legend":{"title":"Gene Pool","legendX":129,"legendY":47}}}},
  {"data":{"name":"g_box"},"mark":{"type":"tick","orient":"horizontal","size":43,"thickness":2.5,"color":"#333333","opacity":0.9},"encoding":{"y":{"field":"med","type":"quantitative","title":"Adjusted mean"}}},
  {"data":{"name":"g_pts"},"mark":{"type":"point","filled":true,"size":42,"color":"#000000","opacity":0.4},"encoding":{"y":{"field":"y","type":"quantitative","title":"Adjusted mean"}}}
 ]}]}
]
}
